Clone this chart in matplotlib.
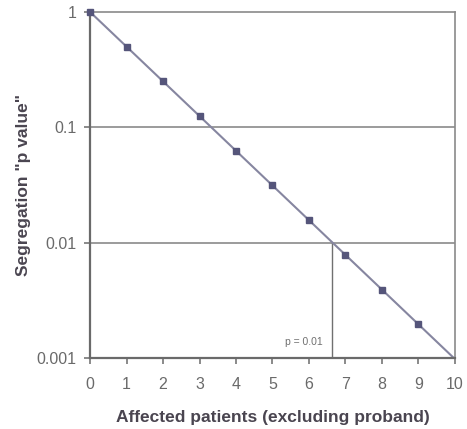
import matplotlib
matplotlib.use('Agg')
from matplotlib import pyplot as plt
import numpy as np

plt.rcParams['font.family'] = ['Liberation Sans', 'DejaVu Sans']

# affected patients and segregation p value (0.5 per meiosis)
patients = [0, 1, 2, 3, 4, 5, 6, 7, 8, 9]
p_values = [1, 0.5, 0.25, 0.125, 0.0625, 0.03125, 0.015625, 0.0078125, 0.00390625, 0.001953125]
line_x = [0, 10]
line_y = [1, 0.0009765625]
cut_x = 6.64
cut_p = 0.01

fig = plt.figure(figsize=(4.67, 4.29), dpi=100)
ax = fig.add_axes([0.193, 0.166, 0.781, 0.806])

ax.set_yscale('log')
ax.set_xlim(0, 10)
ax.set_ylim(0.001, 1)

for yv in [0.01, 0.1]:
    ax.axhline(yv, color='#8a8a8a', lw=1.2, zorder=1)

ax.plot(line_x, line_y, color='#8686a0', lw=1.5, zorder=2)
ax.plot(patients, p_values, 's', color='#55557a', ms=5, zorder=3, clip_on=False)

# p = 0.01 cut-off
ax.plot([cut_x, cut_x], [0.001, cut_p], color='#707070', lw=1.0, zorder=1)
ax.text(cut_x - 0.27, 0.00125, 'p = 0.01', fontsize=7.5, color='#707070', ha='right', va='bottom')

ax.set_xticks(np.arange(0, 11, 1))
ax.set_yticks([0.001, 0.01, 0.1, 1])
ax.set_yticklabels(['0.001', '0.01', '0.1', '1'])
ax.minorticks_off()
ax.tick_params(axis='both', colors='#777777', labelcolor='#6a6a6a', labelsize=11.5,
               direction='out', length=4, width=1.2)
ax.tick_params(axis='x', pad=10)
ax.tick_params(axis='y', pad=6)

for s in ax.spines.values():
    s.set_color('#8a8a8a')
    s.set_linewidth(1.2)
ax.spines['left'].set_color('#6a6a6a')
ax.spines['bottom'].set_color('#6a6a6a')
ax.spines['left'].set_linewidth(1.6)
ax.spines['bottom'].set_linewidth(1.6)

ax.set_xlabel('Affected patients (excluding proband)', fontsize=12.5, fontweight='bold',
              color='#4a4550', labelpad=13)
ax.set_ylabel('Segregation "p value"', fontsize=12.5, fontweight='bold',
              color='#4a4550', labelpad=4)

fig.savefig('out.png', dpi=100)
